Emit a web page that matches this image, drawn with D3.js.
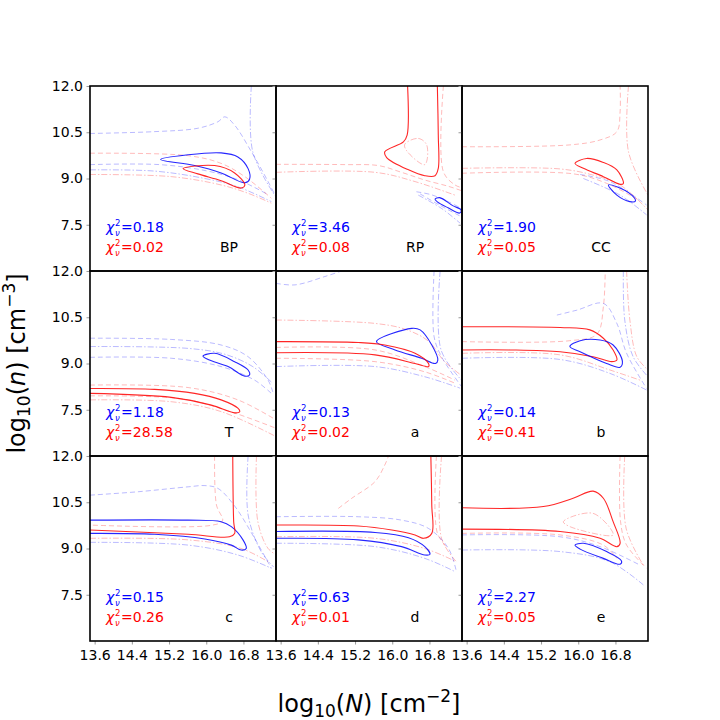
<!DOCTYPE html>
<html>
<head>
<meta charset="utf-8">
<script src="https://cdn.jsdelivr.net/npm/d3@7"></script>
<style>
  body { margin: 0; background: #fff; }
  text { font-family: "DejaVu Sans", sans-serif; }
</style>
</head>
<body>
<div id="chart"></div>
<script>
// ---------------- DATA ----------------
const panelNames = ["BP", "RP", "CC", "T", "a", "b", "c", "d", "e"];
const chiBlue = [0.18, 3.46, 1.90, 1.18, 0.13, 0.14, 0.15, 0.63, 2.27];
const chiRed = [0.02, 0.08, 0.05, 28.58, 0.02, 0.41, 0.26, 0.01, 0.05];
const xTicks = [13.6, 14.4, 15.2, 16.0, 16.8];
const yTicks = [7.5, 9.0, 10.5, 12.0];
const xDomain = [13.5, 17.5];
const yDomain = [6, 12];

// contour lines: model (m1 blue / m2 red), level (1 = best, 2, 3), closed loop or not
const linesBP = [
  { m: "m1", lev: 1, closed: true, p: [[15.02,9.62],[15.61,9.77],[16.32,9.83],[16.68,9.70],[16.90,9.32],[16.93,8.97],[16.83,8.86],[16.32,9.18],[15.75,9.42]] },
  { m: "m2", lev: 1, closed: true, p: [[15.50,9.32],[16.18,9.42],[16.61,9.18],[16.83,8.79],[16.75,8.69],[16.32,8.93],[15.82,9.15]] },
  { m: "m1", lev: 2, p: [[13.5,10.46],[14.89,10.52],[15.82,10.63],[16.25,10.84],[16.40,11.00],[16.61,10.73],[16.97,9.87],[17.33,8.90],[17.5,8.4]] },
  { m: "m1", lev: 3, p: [[16.97,12.0],[17.0,9.87],[17.47,8.46]] },
  { m: "m1", lev: 2, p: [[13.5,9.45],[15.0,9.45],[16.0,9.25],[16.7,8.95],[17.3,8.5]] },
  { m: "m1", lev: 3, p: [[13.5,9.28],[14.89,9.24],[15.97,9.00],[16.68,8.73],[17.40,8.25]] },
  { m: "m2", lev: 2, p: [[13.5,9.82],[15.61,9.74],[16.32,9.49],[16.83,9.06],[17.40,8.36]] },
  { m: "m2", lev: 3, p: [[13.5,9.13],[15.25,9.06],[16.32,8.79],[16.90,8.52],[17.40,8.20]] }
];
const linesRP = [
  { m: "m2", lev: 1, p: [[16.33,12.0],[16.32,10.41],[16.24,10.19],[15.84,9.87],[15.88,9.68],[16.35,9.28],[16.70,9.09],[16.92,9.09],[16.99,9.33],[16.99,10.41],[16.97,12.0]] },
  { m: "m2", lev: 2, p: [[13.5,9.46],[15.0,9.45],[15.7,9.42],[16.2,9.2],[16.7,8.95],[17.2,8.75],[17.5,8.6]] },
  { m: "m2", lev: 3, p: [[13.5,9.20],[15.63,9.20],[16.49,8.90],[17.35,8.46]] },
  { m: "m2", lev: 2, p: [[17.10,12.0],[17.10,9.22],[17.35,8.79],[17.5,8.7]] },
  { m: "m2", lev: 3, closed: true, p: [[16.27,10.11],[16.56,10.30],[16.74,10.09],[16.70,9.45],[16.31,9.9]] },
  { m: "m1", lev: 1, closed: true, p: [[16.92,8.33],[17.02,8.38],[17.30,8.12],[17.48,7.98],[17.45,7.88],[17.20,8.05],[16.97,8.24]] },
  { m: "m1", lev: 2, p: [[16.52,8.57],[16.85,8.47],[17.2,8.25],[17.49,8.03]] },
  { m: "m1", lev: 3, p: [[16.56,8.46],[17.06,8.03],[17.46,7.55]] },
  { m: "m1", lev: 2, p: [[16.60,8.50],[17.0,8.15],[17.5,7.75]] }
];
const linesCC = [
  { m: "m2", lev: 1, closed: true, p: [[15.93,9.49],[16.18,9.65],[16.54,9.52],[16.83,9.28],[16.97,8.84],[16.90,8.81],[16.54,9.06],[16.11,9.33]] },
  { m: "m1", lev: 1, closed: true, p: [[16.65,8.79],[16.83,8.73],[17.15,8.46],[17.23,8.27],[17.11,8.25],[16.83,8.46]] },
  { m: "m2", lev: 2, p: [[13.5,10.03],[15.82,10.09],[16.47,10.25],[16.83,10.52],[16.90,11.17],[16.90,12.0]] },
  { m: "m2", lev: 3, p: [[13.5,9.33],[15.61,9.31],[16.32,9.11],[16.90,8.79],[17.5,7.98]] },
  { m: "m2", lev: 2, p: [[13.5,9.17],[15.9,9.15],[16.6,8.85],[17.3,8.3]] },
  { m: "m2", lev: 3, p: [[17.08,12.0],[17.08,9.87],[17.5,8.46]] },
  { m: "m1", lev: 2, p: [[16.04,9.13],[16.68,8.90],[17.47,8.14]] },
  { m: "m1", lev: 3, p: [[16.11,9.0],[16.90,8.46],[17.47,7.82]] }
];
const linesT = [
  { m: "m1", lev: 1, closed: true, p: [[15.93,9.24],[16.18,9.33],[16.61,9.06],[16.90,8.79],[16.93,8.63],[16.83,8.59],[16.47,8.90],[16.04,9.13]] },
  { m: "m2", lev: 1, p: [[13.5,8.19],[14.89,8.16],[15.75,8.03],[16.32,7.82],[16.68,7.55],[16.72,7.44],[16.61,7.40],[16.11,7.65],[15.25,7.90],[13.5,8.03]] },
  { m: "m1", lev: 2, p: [[13.5,9.82],[15.25,9.78],[16.32,9.60],[16.90,9.22],[17.33,8.46],[17.43,8.08]] },
  { m: "m1", lev: 3, p: [[13.5,9.55],[15.61,9.49],[16.4,9.3],[17.0,8.9],[17.4,8.4]] },
  { m: "m1", lev: 2, p: [[13.5,9.20],[15.25,9.17],[16.32,8.90],[17.04,8.46],[17.40,8.03]] },
  { m: "m2", lev: 2, p: [[13.5,8.30],[15.61,8.22],[16.68,7.82],[17.5,7.17]] },
  { m: "m2", lev: 3, p: [[13.5,7.82],[15.25,7.76],[16.32,7.44],[17.5,6.63]] },
  { m: "m2", lev: 2, p: [[13.5,7.95],[15.5,7.85],[16.5,7.45],[17.5,6.9]] }
];
const linesA = [
  { m: "m1", lev: 1, closed: true, p: [[15.66,9.71],[16.42,10.14],[16.60,10.09],[16.85,9.60],[16.98,9.11],[16.93,9.00],[16.63,9.17],[16.06,9.44]] },
  { m: "m2", lev: 1, p: [[13.5,9.71],[15.27,9.68],[15.84,9.60],[16.49,9.33],[16.78,9.00],[16.78,8.90],[16.49,9.00],[15.63,9.28],[13.5,9.35]] },
  { m: "m1", lev: 2, p: [[13.5,11.6],[13.91,11.55],[14.55,11.82],[14.91,12.0]] },
  { m: "m1", lev: 2, p: [[16.90,12.0],[16.90,9.87],[17.06,9.22],[17.49,8.25]] },
  { m: "m1", lev: 3, p: [[17.03,12.0],[17.05,9.44],[17.49,8.46]] },
  { m: "m2", lev: 3, p: [[13.5,10.41],[15.63,10.30],[16.3,10.1],[16.8,9.7],[17.1,9.1],[17.5,8.6]] },
  { m: "m2", lev: 2, p: [[13.5,9.52],[15.63,9.44],[16.70,8.90],[17.35,8.46]] },
  { m: "m2", lev: 2, p: [[13.5,9.17],[15.63,9.06],[16.70,8.73],[17.35,8.36]] },
  { m: "m1", lev: 3, p: [[13.5,8.90],[15.63,8.90],[16.70,8.57],[17.46,8.20]] }
];
const linesB = [
  { m: "m2", lev: 1, p: [[13.5,10.19],[15.61,10.17],[16.25,10.09],[16.54,9.82],[16.75,9.44],[16.83,9.11],[16.72,9.06],[16.32,9.22],[15.61,9.38],[14.53,9.44],[13.5,9.44]] },
  { m: "m1", lev: 1, closed: true, p: [[15.82,9.55],[16.04,9.74],[16.47,9.76],[16.75,9.60],[16.95,9.06],[16.90,8.88],[16.61,9.00],[16.04,9.38]] },
  { m: "m2", lev: 2, p: [[13.5,9.71],[15.82,9.74],[16.4,9.95],[16.54,10.84],[16.58,12.0]] },
  { m: "m1", lev: 2, p: [[15.54,10.57],[15.97,10.73],[16.54,10.95],[16.83,10.30],[17.04,9.33],[17.47,8.19]] },
  { m: "m1", lev: 3, p: [[16.97,12.0],[17.0,10.41],[17.18,9.22],[17.5,8.57]] },
  { m: "m2", lev: 3, p: [[13.5,9.33],[15.61,9.28],[16.68,8.79],[17.33,8.46]] },
  { m: "m2", lev: 3, p: [[17.04,12.0],[17.11,10.41],[17.26,9.22],[17.5,8.79]] },
  { m: "m1", lev: 3, p: [[13.5,9.17],[15.61,9.13],[16.68,8.68],[17.47,8.14]] }
];
const linesC = [
  { m: "m1", lev: 1, p: [[13.5,9.92],[15.61,9.92],[16.32,9.87],[16.54,9.71],[16.79,9.28],[16.86,9.0],[16.75,8.95],[16.54,9.11],[15.97,9.31],[14.89,9.46],[13.5,9.49]] },
  { m: "m2", lev: 1, p: [[16.57,12.0],[16.59,9.87],[16.61,9.49],[16.50,9.38],[15.61,9.46],[13.5,9.60]] },
  { m: "m1", lev: 2, p: [[13.5,10.73],[14.53,10.84],[15.61,11.0],[15.97,11.04],[16.25,10.95],[16.6,10.4],[17.04,9.33],[17.40,8.36]] },
  { m: "m1", lev: 3, p: [[16.90,12.0],[16.90,10.09],[17.18,8.90],[17.45,8.4]] },
  { m: "m2", lev: 2, p: [[16.18,12.0],[16.22,10.41],[16.35,9.9],[16.1,9.75],[13.5,9.76]] },
  { m: "m2", lev: 3, p: [[13.5,9.33],[15.61,9.28],[16.75,9.0],[17.33,8.57]] },
  { m: "m2", lev: 3, p: [[17.08,12.0],[17.11,9.87],[17.33,9.0],[17.5,8.8]] },
  { m: "m1", lev: 3, p: [[13.5,9.20],[15.61,9.11],[16.68,8.79],[17.40,8.36]] }
];
const linesD = [
  { m: "m2", lev: 1, p: [[13.5,9.76],[15.27,9.73],[15.99,9.60],[16.49,9.44],[16.67,9.33],[16.85,9.49],[16.85,10.41],[16.83,12.0]] },
  { m: "m1", lev: 1, p: [[13.5,9.55],[15.63,9.52],[16.35,9.35],[16.70,9.06],[16.81,8.81],[16.70,8.79],[16.20,9.06],[15.27,9.28],[13.5,9.33]] },
  { m: "m2", lev: 2, p: [[14.84,10.30],[15.13,10.63],[15.63,11.17],[15.84,11.71],[15.92,12.0]] },
  { m: "m2", lev: 3, p: [[17.06,12.0],[17.06,9.33],[17.38,8.57]] },
  { m: "m2", lev: 2, p: [[16.95,12.0],[16.97,9.5],[17.2,9.0]] },
  { m: "m2", lev: 3, p: [[13.5,9.38],[15.63,9.33],[16.70,9.0],[17.38,8.57]] },
  { m: "m1", lev: 2, p: [[13.5,10.03],[15.27,10.03],[16.20,9.92],[16.78,9.65],[17.21,9.0],[17.38,8.25]] },
  { m: "m1", lev: 3, p: [[13.5,9.17],[15.63,9.06],[16.70,8.68],[17.35,8.25]] }
];
const linesE = [
  { m: "m2", lev: 1, p: [[13.5,10.32],[15.25,10.36],[15.89,10.63],[16.32,10.86],[16.54,10.63],[16.75,9.87],[16.90,9.17],[16.83,9.06],[16.47,9.33],[15.61,9.55],[13.5,9.63]] },
  { m: "m1", lev: 1, closed: true, p: [[15.93,9.11],[16.11,9.17],[16.61,8.90],[16.93,8.60],[16.90,8.49],[16.54,8.68],[16.04,8.98]] },
  { m: "m2", lev: 2, p: [[16.90,12.0],[16.91,9.87],[17.04,9.11],[17.47,8.36]] },
  { m: "m2", lev: 3, p: [[17.0,12.0],[17.03,9.65],[17.40,8.46]] },
  { m: "m2", lev: 3, closed: true, p: [[15.68,9.87],[16.32,10.14],[16.75,9.44],[15.82,9.71]] },
  { m: "m2", lev: 2, p: [[13.5,9.49],[15.61,9.44],[16.54,9.11],[16.83,8.68]] },
  { m: "m1", lev: 2, p: [[13.5,9.44],[15.61,9.38],[16.47,9.06],[17.33,8.46]] },
  { m: "m1", lev: 3, p: [[13.5,8.95],[15.61,8.90],[16.68,8.57],[17.40,7.82]] }
];
const panelLines = [linesBP, linesRP, linesCC, linesT, linesA, linesB, linesC, linesD, linesE];

// ---------------- LAYOUT ----------------
const W = 720, H = 720;
const leftM = 90, topM = 86;
const pw = 186, ph = 185;
const colors = { m1: "#0000ff", m2: "#ff0000" };
const dashes = { 1: null, 2: "5,3", 3: "6,2,1.5,2" };

const svg = d3.select("#chart").append("svg")
  .attr("width", W).attr("height", H);

const x = d3.scaleLinear().domain(xDomain).range([0, pw]);
const y = d3.scaleLinear().domain(yDomain).range([ph, 0]);

const lineOpen = d3.line().x(d => x(d[0])).y(d => y(d[1])).curve(d3.curveCatmullRom.alpha(0.5));
const lineClosed = d3.line().x(d => x(d[0])).y(d => y(d[1])).curve(d3.curveCatmullRomClosed.alpha(0.5));

svg.append("defs").append("clipPath").attr("id", "clip")
  .append("rect").attr("width", pw).attr("height", ph);

// chi^2_nu label: symbol, stacked super/subscript, then the value
function chiLabel(g, xx, yy, value, color) {
  g.append("text").attr("x", xx).attr("y", yy)
    .attr("fill", color).style("font-size", "14px").attr("font-style", "italic")
    .text("χ");
  g.append("text").attr("x", xx + 9).attr("y", yy - 5.5)
    .attr("fill", color).style("font-size", "8.5px").text("2");
  g.append("text").attr("x", xx + 9).attr("y", yy + 4.5)
    .attr("fill", color).style("font-size", "8.5px").attr("font-style", "italic").text("ν");
  g.append("text").attr("x", xx + 15).attr("y", yy)
    .attr("fill", color).style("font-size", "14px")
    .text("=" + value.toFixed(2));
}

panelNames.forEach(function (name, i) {
  const col = i % 3, row = Math.floor(i / 3);
  const g = svg.append("g")
    .attr("transform", "translate(" + (leftM + col * pw) + "," + (topM + row * ph) + ")");

  // contours, faint levels first
  const lines = panelLines[i].slice().sort((a, b) => b.lev - a.lev);
  g.append("g").attr("clip-path", "url(#clip)")
    .selectAll("path")
    .data(lines)
    .enter().append("path")
    .attr("d", d => d.closed ? lineClosed(d.p) : lineOpen(d.p))
    .attr("fill", "none")
    .attr("stroke", d => colors[d.m])
    .attr("stroke-width", d => d.lev === 1 ? 1.1 : 0.9)
    .attr("stroke-opacity", d => d.lev === 1 ? 0.85 : 0.3)
    .attr("stroke-dasharray", d => dashes[d.lev]);

  // y ticks on every panel, labels on the first column only
  const ya = g.append("g").call(d3.axisLeft(y).tickValues(yTicks).tickSize(3.5)
    .tickFormat(d3.format(".1f")));
  ya.select(".domain").remove();
  ya.selectAll("line").attr("stroke", "#999");
  if (col === 0) {
    ya.selectAll("text").style("font-size", "14px").attr("fill", "#000")
      .attr("font-family", "DejaVu Sans").attr("x", -7);
  } else {
    ya.selectAll("text").remove();
  }

  if (row === 2) {
    const xa = g.append("g").attr("transform", "translate(0," + ph + ")")
      .call(d3.axisBottom(x).tickValues(xTicks).tickSize(3.5).tickFormat(d3.format(".1f")));
    xa.select(".domain").remove();
    xa.selectAll("line").attr("stroke", "#999");
    xa.selectAll("text").style("font-size", "14px").attr("fill", "#000")
      .attr("font-family", "DejaVu Sans").attr("y", 9);
  }

  // frame
  g.append("rect").attr("width", pw).attr("height", ph)
    .attr("fill", "none").attr("stroke", "#000").attr("stroke-width", 1.6);

  chiLabel(g, 16, 145.5, chiBlue[i], "#0000ff");
  chiLabel(g, 16, 165.5, chiRed[i], "#ff0000");
  g.append("text").attr("x", 139).attr("y", 166)
    .attr("text-anchor", "middle").style("font-size", "14px").attr("fill", "#000")
    .text(name);
});

// axis titles
const xt = svg.append("text").attr("x", leftM + 1.5 * pw).attr("y", 712)
  .attr("text-anchor", "middle").style("font-size", "24px").attr("fill", "#000");
xt.append("tspan").text("log");
xt.append("tspan").style("font-size", "17px").attr("dy", 5).text("10");
xt.append("tspan").attr("dy", -5).text("(");
xt.append("tspan").attr("font-style", "italic").text("N");
xt.append("tspan").text(") [cm");
xt.append("tspan").style("font-size", "17px").attr("dy", -10).text("−2");
xt.append("tspan").attr("dy", 10).text("]");

const yt = svg.append("text")
  .attr("transform", "translate(25," + (topM + 1.5 * ph) + ") rotate(-90)")
  .attr("text-anchor", "middle").style("font-size", "24px").attr("fill", "#000");
yt.append("tspan").text("log");
yt.append("tspan").style("font-size", "17px").attr("dy", 5).text("10");
yt.append("tspan").attr("dy", -5).text("(");
yt.append("tspan").attr("font-style", "italic").text("n");
yt.append("tspan").text(") [cm");
yt.append("tspan").style("font-size", "17px").attr("dy", -10).text("−3");
yt.append("tspan").attr("dy", 10).text("]");
</script>
</body>
</html>
